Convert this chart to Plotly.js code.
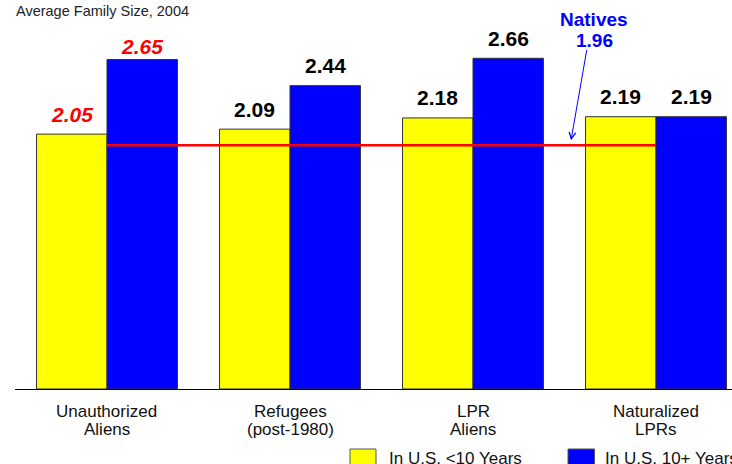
<!DOCTYPE html>
<html>
<head>
<meta charset="utf-8">
<script src="https://cdn.plot.ly/plotly-3.0.1.min.js"></script>
<style>html,body{margin:0;padding:0;background:#fff;}#chart{width:732px;height:464px;}</style>
</head>
<body>
<div id="chart"></div>
<script>
const categories = ["Unauthorized Aliens", "Refugees (post-1980)", "LPR Aliens", "Naturalized LPRs"];
const labelLine1 = ["Unauthorized", "Refugees", "LPR", "Naturalized"];
const labelLine2 = ["Aliens", "(post-1980)", "Aliens", "LPRs"];
const under10 = [2.05, 2.09, 2.18, 2.19];
const over10 = [2.65, 2.44, 2.66, 2.19];
const nativesValue = 1.96;
const seriesNames = ["In U.S. <10 Years", "In U.S. 10+ Years"];
const titleText = "Average Family Size, 2004";

const FONT = "Arial, 'Liberation Sans', sans-serif";
const YELLOW = "#FFFF00", BLUE = "#0000FF";

const traces = [
  {type: "bar", x: categories, y: under10, name: seriesNames[0],
   marker: {color: YELLOW, line: {color: "#333", width: 1}}, hoverinfo: "none"},
  {type: "bar", x: categories, y: over10, name: seriesNames[1],
   marker: {color: BLUE, line: {color: "#333", width: 1}}, hoverinfo: "none"},
  {type: "scatter", mode: "lines", x: [categories[0], categories[categories.length - 1]],
   y: [nativesValue, nativesValue], line: {color: "#FF0000", width: 2.5}, hoverinfo: "none"}
];

const annotations = [];
const barHalf = 35.25;
[under10, over10].forEach((series, s) => {
  series.forEach((v, i) => {
    const highlight = (i === 0);
    annotations.push({
      x: categories[i], y: v, xref: "x", yref: "y",
      xshift: s === 0 ? -barHalf : barHalf,
      yshift: (highlight && s === 1) ? 13.5 : 20,
      yanchor: "middle", xanchor: "center", showarrow: false,
      text: highlight ? "<b><i>" + v.toFixed(2) + "</i></b>" : "<b>" + v.toFixed(2) + "</b>",
      font: {family: FONT, size: 21, color: highlight ? "#FF0000" : "#000"}
    });
  });
});
categories.forEach((c, i) => {
  annotations.push({x: c, y: 0, xref: "x", yref: "paper", yshift: -22.7, yanchor: "middle",
    showarrow: false, text: labelLine1[i], font: {family: FONT, size: 17, color: "#111"}});
  annotations.push({x: c, y: 0, xref: "x", yref: "paper", yshift: -40.3, yanchor: "middle",
    showarrow: false, text: labelLine2[i], font: {family: FONT, size: 17, color: "#111"}});
});
// Natives callout
annotations.push({x: 0.8082, xref: "paper", y: 0.9906, yref: "paper", yanchor: "middle", xanchor: "center",
  showarrow: false, text: "<b>Natives</b>", font: {family: FONT, size: 19, color: BLUE}});
annotations.push({x: 0.8082, xref: "paper", y: 0.9338, yref: "paper", yanchor: "middle", xanchor: "center",
  showarrow: false, text: "<b>" + nativesValue.toFixed(2) + "</b>", font: {family: FONT, size: 19, color: BLUE}});
annotations.push({x: 0.7755, xref: "paper", y: nativesValue + 0.04, yref: "y", text: "",
  showarrow: true, ax: 16, ay: -92, arrowcolor: BLUE, arrowwidth: 1, arrowhead: 5, arrowsize: 1.3});
// legend texts
annotations.push({x: (386.7 - 15) / 717, xref: "paper", y: 0, yref: "paper", yshift: -69,
  xanchor: "left", yanchor: "middle", showarrow: false, text: seriesNames[0],
  font: {family: FONT, size: 17, color: "#111"}});
annotations.push({x: (603.3 - 15) / 717, xref: "paper", y: 0, yref: "paper", yshift: -69,
  xanchor: "left", yanchor: "middle", showarrow: false, text: seriesNames[1],
  font: {family: FONT, size: 17, color: "#111"}});

const shapes = [
  {type: "rect", xref: "paper", yref: "paper", x0: (350 - 15) / 717, x1: (376 - 15) / 717,
   y0: (389 - 449) / 373, y1: (389 - 478) / 373, fillcolor: YELLOW, line: {color: "#555", width: 1}},
  {type: "rect", xref: "paper", yref: "paper", x0: (568 - 15) / 717, x1: (594.5 - 15) / 717,
   y0: (389 - 449) / 373, y1: (389 - 478) / 373, fillcolor: BLUE, line: {color: "#555", width: 1}}
];

const layout = {
  width: 732, height: 464,
  margin: {l: 15, r: 0, t: 16, b: 75, pad: 0},
  paper_bgcolor: "#fff", plot_bgcolor: "#fff",
  showlegend: false,
  barmode: "group", bargap: 0.23, bargroupgap: 0,
  title: {text: titleText, x: 16 / 732, xref: "container", xanchor: "left",
          y: 1 - 11 / 464, yref: "container", yanchor: "middle",
          font: {family: FONT, size: 14.5, color: "#222"}},
  xaxis: {type: "category", range: [-0.5027, 3.4153], showline: true, linecolor: "#000", linewidth: 1,
          showticklabels: false, ticks: "", showgrid: false, zeroline: false, fixedrange: true},
  yaxis: {range: [0, 3], showline: false, showticklabels: false, ticks: "", showgrid: false,
          zeroline: false, fixedrange: true},
  annotations: annotations,
  shapes: shapes
};

Plotly.newPlot("chart", traces, layout, {displayModeBar: false, staticPlot: true});
</script>
</body>
</html>
